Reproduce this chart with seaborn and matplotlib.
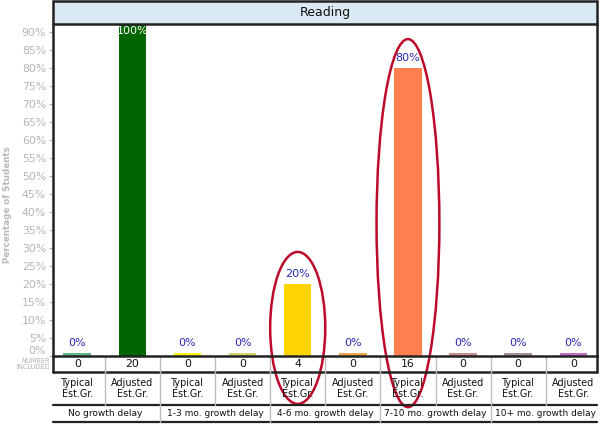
import matplotlib
matplotlib.use("Agg")
import matplotlib.pyplot as plt
import seaborn as sns
import pandas as pd
from matplotlib.patches import Rectangle, Ellipse
import matplotlib.transforms as mtransforms

# ---- data ----
columns = ["Typical\nEst.Gr.", "Adjusted\nEst.Gr."] * 5
groups = ["No growth delay", "1-3 mo. growth delay", "4-6 mo. growth delay",
          "7-10 mo. growth delay", "10+ mo. growth delay"]
percent = [0, 100, 0, 0, 20, 0, 80, 0, 0, 0]
counts = [0, 20, 0, 0, 4, 0, 16, 0, 0, 0]
bar_colors = ["#5cb88a", "#006400", "#f7f31c", "#d8d06a", "#ffd400",
              "#f2a84a", "#ff7f4f", "#c89090", "#a68c9c", "#c86cc8"]
yticks = list(range(0, 95, 5))
title = "Reading"
highlight = [4, 6]  # circled bars

sns.set_theme(style="white")
plt.rcParams['font.family'] = ['DejaVu Sans']

fig = plt.figure(figsize=(6, 4.24), dpi=100)
W, H = 600, 424
ax_left, ax_right, ax_top, ax_bot = 53, 597, 24, 356
ax = fig.add_axes([ax_left / W, 1 - ax_bot / H, (ax_right - ax_left) / W, (ax_bot - ax_top) / H])

pos = list(range(len(percent)))
stub = 0.8
shown = [max(v, stub) for v in percent]
df = pd.DataFrame({"pos": pos, "val": shown})
sns.barplot(data=df, x="pos", y="val", hue="pos", palette=bar_colors, width=0.5,
            legend=False, ax=ax, native_scale=True, saturation=1, linewidth=0)

ymax = 92.2
ax.set_xlim(-0.44, 9.43)
ax.set_ylim(0, ymax)
ax.set_xlabel("")
ax.set_ylabel("")
ax.set_xticks([])
ax.set_yticks(yticks)
ax.set_yticklabels([f"{t}%" for t in yticks], color="#b4b4b4", fontsize=7.8)
ax.tick_params(axis="y", which="major", left=True, length=3, width=0.8, color="#b4b4b4", pad=2)
lbl0 = ax.get_yticklabels()[0]
lbl0.set_transform(lbl0.get_transform() + mtransforms.ScaledTranslation(0, 6 / 100, fig.dpi_scale_trans))

for s in ["left", "right", "bottom"]:
    ax.spines[s].set_color("#222222")
    ax.spines[s].set_linewidth(1.8)
ax.spines["top"].set_visible(False)

# value labels
for i, v in enumerate(percent):
    if v >= 100:
        ax.text(i, ymax - 0.6, f"{v}%", ha="center", va="top", color="white", fontsize=8)
    else:
        ax.annotate(f"{v}%", (i, shown[i]), xytext=(0, 3.5), textcoords="offset points",
                    ha="center", va="bottom", color="#2a2ab4", fontsize=8)

# title band
axh = ax_bot - ax_top
band = Rectangle((0, 1), 1, 23 / axh, transform=ax.transAxes, facecolor="#d9eaf5",
                 edgecolor="#222222", linewidth=1.8, clip_on=False)
ax.add_patch(band)
ax.text(0.5, 1 + 11.5 / axh, title, transform=ax.transAxes, ha="center", va="center",
        fontsize=9, color="#111111")

# table below
tr = ax.get_xaxis_transform()
x0, x1 = ax.get_xlim()
r1 = -16 / axh
r2 = -49 / axh
r3 = -66 / axh
ax.plot([x0, x1], [r1, r1], color="#222222", lw=1.8, transform=tr, clip_on=False)
ax.plot([x0, x0], [0, r1], color="#222222", lw=1.8, transform=tr, clip_on=False)
ax.plot([x1, x1], [0, r1], color="#222222", lw=1.8, transform=tr, clip_on=False)
ax.plot([x0, x1], [r2, r2], color="#222222", lw=1.6, transform=tr, clip_on=False)
ax.plot([x0, x1], [r3, r3], color="#222222", lw=1.6, transform=tr, clip_on=False)
for k in range(len(percent) - 1):
    ax.plot([k + 0.5, k + 0.5], [0, r2], color="#bdbdbd", lw=1.0, transform=tr, clip_on=False)
for g in range(1, len(groups)):
    xs = 2 * g - 0.5
    ax.plot([xs, xs], [r2, r3], color="#bdbdbd", lw=1.0, transform=tr, clip_on=False)

for i, c in enumerate(counts):
    ax.text(i, r1 / 2, str(c), transform=tr, ha="center", va="center", fontsize=7.8, color="#111111")
for i, lab in enumerate(columns):
    ax.text(i, (r1 + r2) / 2, lab, transform=tr, ha="center", va="center", fontsize=6.9,
            color="#111111", linespacing=1.05)
for g, lab in enumerate(groups):
    ax.text(2 * g + 0.5, (r2 + r3) / 2, lab, transform=tr, ha="center", va="center",
            fontsize=6.5, color="#111111")

fig.text(50 / W, 1 - 364 / H, "NUMBER\nINCLUDED", ha="right", va="center", fontsize=4.8,
         color="#b4b4b4", linespacing=1.1)
fig.text(8 / W, 1 - 205 / H, "Percentage of Students", rotation=90, ha="center", va="center",
         fontsize=6.3, color="#b8b8b8", fontweight="bold")

# highlight ellipses
ell_specs = {4: (7.8, 1.0, 42.2), 6: (36.9, 1.14, 102.2)}
for i in highlight:
    yc, w, h = ell_specs[i]
    e = Ellipse((i, yc), w, h, fill=False, edgecolor="#bd0a2a", linewidth=1.8, clip_on=False)
    ax.add_patch(e)

fig.savefig("out.png", dpi=100)
